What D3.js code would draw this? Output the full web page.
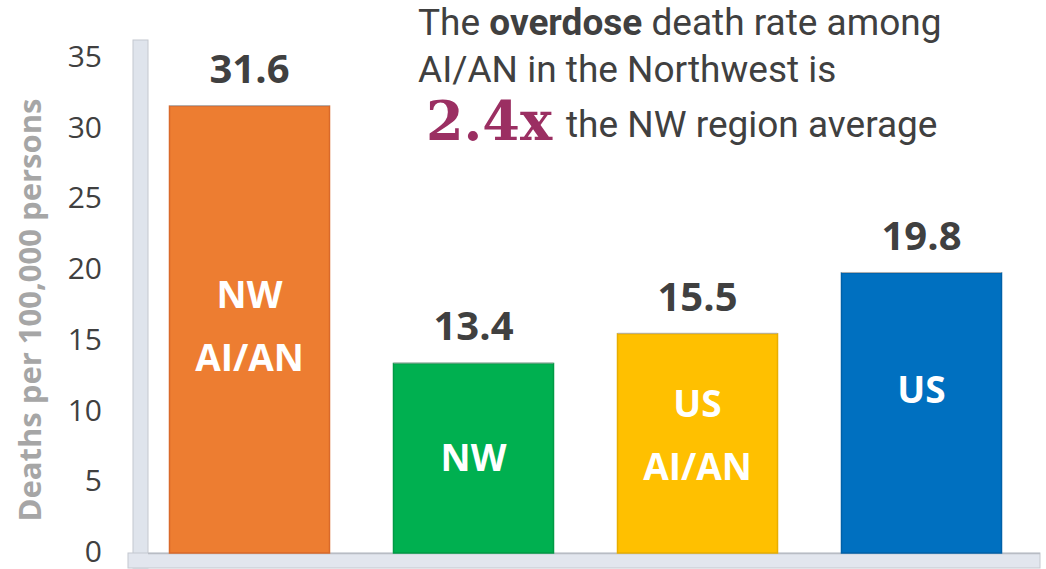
<!DOCTYPE html>
<html><head><meta charset="utf-8">
<script src="https://cdn.jsdelivr.net/npm/d3@7"></script>
<style>
html,body{margin:0;padding:0;background:#fff;}
svg{display:block;}
</style></head>
<body>
<svg id="chart" width="1046" height="569"></svg>
<script>
// ---- data ----
const categories = ["NW AI/AN", "NW", "US AI/AN", "US"];
const values = [31.6, 13.4, 15.5, 19.8];
const barLabels = [["NW", "AI/AN"], ["NW"], ["US", "AI/AN"], ["US"]];
const colors = ["#ED7D31", "#00B050", "#FFC000", "#0070C0"];
const edgeColors = ["#d9692a", "#009a45", "#e8ae00", "#0060a8"];
const yTicks = [0, 5, 10, 15, 20, 25, 30, 35];
const yTitle = "Deaths per 100,000 persons";
const titleLine1 = [["The ", "normal"], ["overdose", "bold"], [" death rate among", "normal"]];
const titleLine2 = "AI/AN in the Northwest is";
const highlight = "2.4x";
const titleLine3 = "the NW region average";

const svg = d3.select("#chart");
const y = d3.scaleLinear().domain([0, 35]).range([553, 58]);
const x = d3.scaleBand().domain(categories).range([137.5, 1033.5])
  .paddingInner(64/224).paddingOuter(32/224);

// 3D wall and floor
svg.append("rect").attr("x", 133).attr("y", 40).attr("width", 15).attr("height", 528)
  .attr("fill", "#dfe4ec").attr("stroke", "#c4c8cf").attr("stroke-width", 1);
svg.append("rect").attr("x", 128).attr("y", 553).attr("width", 912).attr("height", 15)
  .attr("fill", "#e2e6ee").attr("stroke", "#c4c8cf").attr("stroke-width", 1);
svg.append("line").attr("x1", 148).attr("x2", 1040).attr("y1", 553.5).attr("y2", 553.5)
  .attr("stroke", "#b8bcc4").attr("stroke-width", 1.5);

// y axis (labels only)
const yAxis = d3.axisLeft(y).tickValues(yTicks).tickSize(0).tickPadding(0);
const gy = svg.append("g").attr("transform", "translate(102,-2)").call(yAxis);
gy.select(".domain").remove();
gy.selectAll("text").attr("font-family", "'Open Sans', sans-serif").attr("font-size", 30)
  .attr("fill", "#404040").attr("dy", "0.35em");

svg.append("text").attr("transform", "translate(41,310) rotate(-90)")
  .attr("text-anchor", "middle").attr("font-family", "'Open Sans', sans-serif")
  .attr("font-weight", "bold").attr("font-size", 31).attr("fill", "#a6a6a6").text(yTitle);

// bars
const data = categories.map((c, i) => ({c, v: values[i], i}));
svg.selectAll("rect.bar").data(data).join("rect").attr("class", "bar")
  .attr("x", d => x(d.c)).attr("y", d => y(d.v))
  .attr("width", x.bandwidth()).attr("height", d => y(0) - y(d.v))
  .attr("fill", d => colors[d.i]).attr("stroke", d => edgeColors[d.i]).attr("stroke-width", 1.5);
svg.selectAll("line.top").data(data).join("line").attr("class", "top")
  .attr("x1", d => x(d.c)).attr("x2", d => x(d.c) + x.bandwidth())
  .attr("y1", d => y(d.v) - 0.5).attr("y2", d => y(d.v) - 0.5)
  .attr("stroke", "#b0b0b0").attr("stroke-width", 1);

// value labels
svg.selectAll("text.val").data(data).join("text").attr("class", "val")
  .attr("x", d => x(d.c) + x.bandwidth()/2).attr("y", d => y(d.v) - 23)
  .attr("text-anchor", "middle").attr("font-family", "'Open Sans', sans-serif")
  .attr("font-weight", "bold").attr("font-size", 40).attr("fill", "#404040")
  .text(d => d.v.toFixed(1));

// inner labels
const shift = [-3, -1, -8, -23];
data.forEach(d => {
  const lines = barLabels[d.i];
  const cy = (y(d.v) + y(0)) / 2 + shift[d.i];
  const lh = 63;
  lines.forEach((t, k) => {
    svg.append("text").attr("x", x(d.c) + x.bandwidth()/2)
      .attr("y", cy + (k - (lines.length - 1)/2) * lh).attr("dy", "0.36em")
      .attr("text-anchor", "middle").attr("font-family", "'Open Sans', sans-serif")
      .attr("font-weight", "bold").attr("font-size", 37).attr("fill", "#ffffff").text(t);
  });
});

// title
const tf = "Roboto, sans-serif";
const t1 = svg.append("text").attr("x", 418).attr("y", 35).attr("font-family", tf)
  .attr("font-size", 37).attr("fill", "#404040");
titleLine1.forEach(([s, w]) => t1.append("tspan").attr("font-weight", w === "bold" ? 700 : 400).text(s));
svg.append("text").attr("x", 418).attr("y", 82).attr("font-family", tf)
  .attr("font-size", 37).attr("fill", "#404040").text(titleLine2);
svg.append("text").attr("x", 426).attr("y", 140).attr("font-family", "'DejaVu Serif', serif")
  .attr("font-weight", "bold").attr("font-size", 54).attr("fill", "#9b2f62").text(highlight);
svg.append("text").attr("x", 566).attr("y", 137).attr("font-family", tf)
  .attr("font-size", 37).attr("fill", "#404040").text(titleLine3);
</script>
</body></html>
